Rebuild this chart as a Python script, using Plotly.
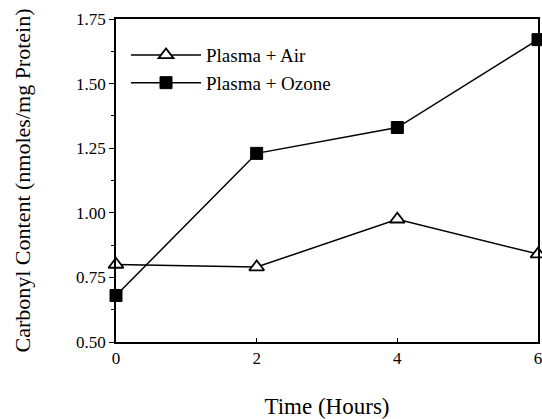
import plotly.graph_objects as go

hours = [0, 2, 4, 6]
air = [0.80, 0.79, 0.975, 0.84]
ozone = [0.68, 1.23, 1.33, 1.67]
series_names = ["Plasma + Air", "Plasma + Ozone"]
y_ticks = [0.50, 0.75, 1.00, 1.25, 1.50, 1.75]
y_tick_labels = ["0.50", "0.75", "1.00", "1.25", "1.50", "1.75"]
x_ticks = [0, 2, 4, 6]

FONT = "Liberation Serif, Times New Roman, serif"

fig = go.Figure()
fig.add_trace(go.Scatter(
    x=hours, y=air, name=series_names[0], mode="lines+markers",
    line=dict(color="black", width=1.5),
    marker=dict(symbol="triangle-up", size=13, color="white",
                line=dict(color="black", width=1.8)),
    cliponaxis=False,
))
fig.add_trace(go.Scatter(
    x=hours, y=ozone, name=series_names[1], mode="lines+markers",
    line=dict(color="black", width=1.5),
    marker=dict(symbol="square", size=12, color="black",
                line=dict(color="black", width=1)),
    cliponaxis=False,
))

fig.update_layout(
    width=542, height=419,
    margin=dict(l=116, r=4, t=19, b=77, autoexpand=False),
    paper_bgcolor="white", plot_bgcolor="white",
    font=dict(family=FONT, color="black", size=17),
    showlegend=True,
    legend=dict(
        x=0.0237, y=0.947, xanchor="left", yanchor="top",
        bgcolor="rgba(0,0,0,0)", borderwidth=0,
        font=dict(family=FONT, size=19),
        itemwidth=70, tracegroupgap=0,
    ),
    xaxis=dict(
        range=[0, 6], tickvals=x_ticks, ticktext=[str(v) for v in x_ticks],
        showgrid=False, zeroline=False, showline=True, linecolor="black",
        linewidth=1.5, mirror=True, ticks="inside", ticklen=4,
        tickcolor="black", tickfont=dict(size=17, family=FONT),
        ticklabeloverflow="allow",
        automargin=False,
        title=dict(text="Time (Hours)", font=dict(size=23, family=FONT), standoff=38),
    ),
    yaxis=dict(
        range=[0.5, 1.75], tickvals=y_ticks, ticktext=y_tick_labels,
        showgrid=False, zeroline=False, showline=True, linecolor="black",
        linewidth=1.5, mirror=True, ticks="outside", ticklen=5,
        tickcolor="black", tickfont=dict(size=17, family=FONT),
        automargin=False,
        minor=dict(ticks="outside", ticklen=3, tickcolor="black", dtick=0.125, showgrid=False),
        title=dict(text="Carbonyl Content (nmoles/mg Protein)", font=dict(size=22, family=FONT), standoff=39),
    ),
)

fig.write_html(
    "out.html",
    config={"displayModeBar": False},
    post_script="document.body.style.margin='0';document.body.style.overflow='hidden';",
)
